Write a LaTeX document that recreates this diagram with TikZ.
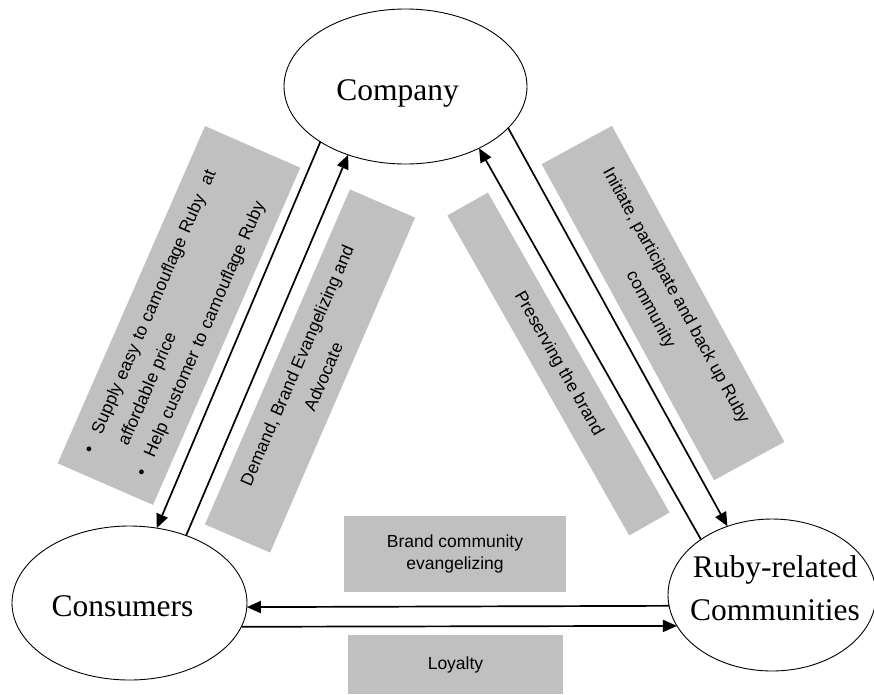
\documentclass[tikz,border=0pt]{standalone}
\usepackage{fontspec}
\setmainfont{Liberation Serif}
\setsansfont{Liberation Sans}
\usepackage{tikz}
\usetikzlibrary{shapes.geometric}
\usetikzlibrary{arrows.meta}
\definecolor{boxgray}{RGB}{192,192,192}

\begin{document}
\begin{tikzpicture}[x=1pt, y=1pt,
    ellipsenode/.style={draw, ellipse, line width=0.9pt, outer sep=0pt, inner sep=0pt},
    bigtext/.style={font={\fontsize{31.5}{43}\selectfont\rmfamily}, align=center, inner sep=0pt},
    graybox/.style={fill=boxgray, inner sep=0pt, align=center,
        font={\fontsize{17.5}{28.7}\selectfont\sffamily}},
    flatbox/.style={graybox, font={\fontsize{17.5}{22}\selectfont\sffamily}},
    link/.style={line width=1.7pt, -{Triangle[length=14pt,width=12pt]}}
]

\useasboundingbox (0,0) rectangle (874,-694);

% Position settings
\coordinate (CompanyPos) at (405.5,-86.5);
\coordinate (ConsumersPos) at (129.5,-603);
\coordinate (RubyPos) at (772,-595);

% Gray text boxes
\node [graybox, minimum width=368, minimum height=104, rotate=66.4,
       text width=324, inner xsep=22, align=left] (SupplyBox) at (179,-315.5)
    {\noindent\begin{tabular}{@{}l@{\hspace{15pt}}l@{}}
        \textbullet & Supply easy to camouflage Ruby\ \ at\\
                    & affordable price\\
        \textbullet & Help customer to camouflage Ruby
     \end{tabular}};
\node [graybox, minimum width=365, minimum height=71, rotate=66.6] (DemandBox) at (310,-371)
    {Demand, Brand Evangelizing and\\Advocate};
\node [graybox, minimum width=368, minimum height=46.5, rotate=-60.4] (PreserveBox) at (558.5,-364)
    {Preserving the brand};
\node [graybox, minimum width=360, minimum height=80, rotate=-61.4] (InitiateBox) at (663,-303)
    {Initiate, participate and back up Ruby\\community};
\node [flatbox, minimum width=222, minimum height=76] (EvangelBox) at (455,-554)
    {Brand community\\evangelizing};
\node [flatbox, minimum width=215, minimum height=59] (LoyaltyBox) at (455.5,-664.5)
    {Loyalty};

% Ellipses
\node [ellipsenode, minimum width=243, minimum height=155] (Company) at (CompanyPos) {};
\node [ellipsenode, minimum width=235, minimum height=154] (Consumers) at (ConsumersPos) {};
\node [ellipsenode, minimum width=208, minimum height=152] (Ruby) at (RubyPos) {};

\node [bigtext, anchor=base] (CompanyText) at (397.5,-100) {Company};
\node [bigtext, anchor=base] (ConsumersText) at (122.5,-616) {Consumers};
\node [bigtext] (RubyText) at (775,-588) {Ruby-related\\Communities};

% Draws arrows
\draw [link] (Company.213.2) -- (Consumers.70);
\draw [link] (Consumers.50.5) -- (Company.230.8);
\draw [link] (Ruby.142.6) -- (Company.320.8);
\draw [link] (Company.338) -- (Ruby.123);
\draw [link] (Ruby.186.1) -- (Consumers.358.54);
\draw [link] (Consumers.348.41) -- (Ruby.198.08);

\end{tikzpicture}
\end{document}
